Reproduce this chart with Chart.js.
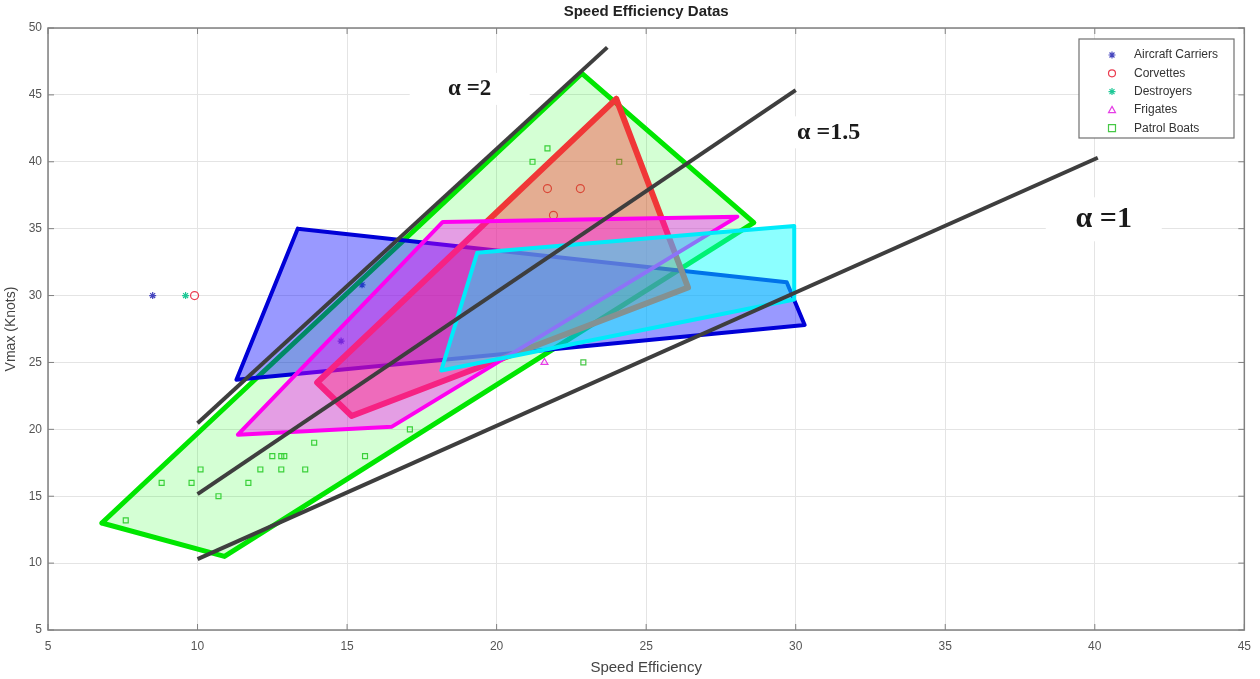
<!DOCTYPE html>
<html><head><meta charset="utf-8">
<script src="https://cdn.jsdelivr.net/npm/chart.js@4.4.0/dist/chart.umd.min.js"></script>
<style>html,body{margin:0;padding:0;background:#fff;}#wrap{width:1260px;height:679px;}</style>
</head><body><div id="wrap"><canvas id="c" width="1260" height="679"></canvas></div>
<script>
const chartTitle = 'Speed Efficiency Datas';
const xTitle = 'Speed Efficiency';
const yTitle = 'Vmax (Knots)';
const seriesNames = ['Aircraft Carriers', 'Corvettes', 'Destroyers', 'Frigates', 'Patrol Boats'];

// measured ships
const carrierX = [8.5, 15.5, 14.8];
const carrierY = [30, 30.8, 26.6];
const corvetteX = [9.9, 21.7, 22.8, 21.9];
const corvetteY = [30, 38, 38, 36];
const destroyerX = [9.6];
const destroyerY = [30];
const frigateX = [21.6];
const frigateY = [25];
const patrolX = [7.6, 8.8, 9.8, 10.1, 10.7, 11.7, 12.1, 12.5, 12.8, 12.9, 12.8, 13.6, 13.9, 15.6, 17.1, 21.2, 21.7, 24.1, 22.9];
const patrolY = [13.2, 16, 16, 17, 15, 16, 17, 18, 18, 18, 17, 17, 19, 18, 20, 40, 41, 40, 25];

// envelopes
const carrierHullX = [13.35, 29.7, 30.3, 11.3, 13.35];
const carrierHullY = [35, 31, 27.8, 23.7, 35];
const corvetteHullX = [24.0, 26.4, 15.15, 14.0, 24.0];
const corvetteHullY = [44.7, 30.6, 21.0, 23.5, 44.7];
const destroyerHullX = [19.35, 29.95, 29.95, 18.15, 19.35];
const destroyerHullY = [33.2, 35.2, 29.7, 24.4, 33.2];
const frigateHullX = [11.35, 18.2, 28.05, 16.5, 11.35];
const frigateHullY = [19.6, 35.5, 35.9, 20.2, 19.6];
const patrolHullX = [6.8, 22.85, 28.6, 10.9, 6.8];
const patrolHullY = [13.0, 46.6, 35.45, 10.5, 13.0];

// alpha reference lines
const alphaNames = ['\u03b1 =2', '\u03b1 =1.5', '\u03b1 =1'];
const alpha2X = [10, 23.7];
const alpha2Y = [20.45, 48.55];
const alpha15X = [10, 30.0];
const alpha15Y = [15.15, 45.35];
const alpha1X = [10, 40.1];
const alpha1Y = [10.3, 40.3];
const alphaLabelX = [19.1, 31.1, 40.3];
const alphaLabelY = [45.45, 42.2, 35.7];

const xTicksMin = 5, xTicksMax = 45, yTicksMin = 5, yTicksMax = 50, tickStep = 5;

const pts = (xs, ys) => xs.map((x, i) => ({x: x, y: ys[i]}));

const markerStyles = [
  {style: 'star', color: 'rgb(70,70,190)', r: 3.5},
  {style: 'circle', color: 'rgb(235,60,80)', r: 4},
  {style: 'star', color: 'rgb(30,200,150)', r: 3.5},
  {style: 'triangle', color: 'rgb(230,60,230)', r: 4},
  {style: 'rect', color: 'rgb(70,200,70)', r: 3.5}
];
const markerX = [carrierX, corvetteX, destroyerX, frigateX, patrolX];
const markerY = [carrierY, corvetteY, destroyerY, frigateY, patrolY];

function scatterSet(i) {
  const m = markerStyles[i];
  return {
    type: 'scatter', label: seriesNames[i], data: pts(markerX[i], markerY[i]),
    pointStyle: m.style, pointRadius: m.r, pointBorderColor: m.color, pointBackgroundColor: 'rgba(0,0,0,0)',
    pointBorderWidth: 1.2, borderColor: m.color, backgroundColor: 'rgba(0,0,0,0)', showLine: false, order: 20
  };
}
function hullSet(label, xs, ys, edge, fillC, w, order) {
  return {
    type: 'line', label: label, data: pts(xs, ys), borderColor: edge, backgroundColor: fillC,
    borderWidth: w, fill: 'shape', pointRadius: 0, tension: 0, borderJoinStyle: 'round', borderCapStyle: 'round', order: order
  };
}
function refLine(label, xs, ys) {
  return {
    type: 'line', label: label, data: pts(xs, ys), borderColor: 'rgb(62,62,62)', borderWidth: 4,
    fill: false, pointRadius: 0, tension: 0, borderCapStyle: 'butt', order: 0
  };
}

const datasets = [
  refLine(alphaNames[0], alpha2X, alpha2Y),
  refLine(alphaNames[1], alpha15X, alpha15Y),
  refLine(alphaNames[2], alpha1X, alpha1Y),
  hullSet('Destroyers envelope', destroyerHullX, destroyerHullY, 'rgb(0,235,250)', 'rgba(0,255,255,0.45)', 4, 2),
  hullSet('Frigates envelope', frigateHullX, frigateHullY, 'rgb(255,0,240)', 'rgba(255,0,255,0.38)', 4, 3),
  hullSet('Corvettes envelope', corvetteHullX, corvetteHullY, 'rgb(240,55,55)', 'rgba(255,40,40,0.38)', 6, 4),
  hullSet('Aircraft Carriers envelope', carrierHullX, carrierHullY, 'rgb(0,0,215)', 'rgba(0,0,255,0.40)', 4, 5),
  hullSet('Patrol Boats envelope', patrolHullX, patrolHullY, 'rgb(0,230,0)', 'rgba(0,255,0,0.17)', 5, 6),
  scatterSet(0), scatterSet(1), scatterSet(2), scatterSet(3), scatterSet(4)
];

function drawMarker(ctx, style, color, x, y, r) {
  ctx.save();
  ctx.strokeStyle = color; ctx.fillStyle = color; ctx.lineWidth = 1.2;
  ctx.beginPath();
  if (style === 'star') {
    for (let k = 0; k < 4; k++) {
      const a = k * Math.PI / 4;
      ctx.moveTo(x - r * Math.cos(a), y - r * Math.sin(a));
      ctx.lineTo(x + r * Math.cos(a), y + r * Math.sin(a));
    }
    ctx.stroke();
  } else if (style === 'circle') {
    ctx.arc(x, y, r, 0, Math.PI * 2); ctx.stroke();
  } else if (style === 'triangle') {
    ctx.moveTo(x, y - r); ctx.lineTo(x + r, y + r * 0.8); ctx.lineTo(x - r, y + r * 0.8); ctx.closePath(); ctx.stroke();
  } else {
    ctx.rect(x - r, y - r, 2 * r, 2 * r); ctx.stroke();
  }
  ctx.restore();
}

const sansFont = '"Liberation Sans", Arial, sans-serif';

const decor = {
  id: 'decor',
  beforeDraw(chart) {
    const ctx = chart.ctx;
    ctx.save(); ctx.fillStyle = '#fff'; ctx.fillRect(0, 0, chart.width, chart.height); ctx.restore();
  },
  beforeDatasetsDraw(chart) {
    const ctx = chart.ctx, xs = chart.scales.x, ys = chart.scales.y;
    // white text boxes behind alpha labels
    const boxW = [120, 84, 116], boxH = [32, 32, 44];
    ctx.save(); ctx.fillStyle = '#fff';
    for (let i = 0; i < 3; i++) {
      const px = xs.getPixelForValue(alphaLabelX[i]), py = ys.getPixelForValue(alphaLabelY[i]);
      ctx.fillRect(px - boxW[i] / 2, py - boxH[i] / 2, boxW[i], boxH[i]);
    }
    ctx.restore();
  },
  afterDraw(chart) {
    const ctx = chart.ctx, a = chart.chartArea, xs = chart.scales.x, ys = chart.scales.y;
    ctx.save();
    // axes box
    ctx.strokeStyle = '#808080'; ctx.lineWidth = 1.5;
    ctx.strokeRect(a.left, a.top, a.right - a.left, a.bottom - a.top);
    ctx.lineWidth = 1;
    ctx.beginPath();
    xs.ticks.forEach(t => {
      const px = xs.getPixelForValue(t.value);
      ctx.moveTo(px, a.bottom); ctx.lineTo(px, a.bottom - 6);
      ctx.moveTo(px, a.top); ctx.lineTo(px, a.top + 6);
    });
    ys.ticks.forEach(t => {
      const py = ys.getPixelForValue(t.value);
      ctx.moveTo(a.left, py); ctx.lineTo(a.left + 6, py);
      ctx.moveTo(a.right, py); ctx.lineTo(a.right - 6, py);
    });
    ctx.stroke();
    // title
    ctx.fillStyle = '#222'; ctx.font = 'bold 15px ' + sansFont;
    ctx.textAlign = 'center'; ctx.textBaseline = 'middle';
    ctx.fillText(chartTitle, (a.left + a.right) / 2, 12);
    // alpha labels
    const sizes = [23, 24, 30];
    ctx.fillStyle = '#1a1a1a';
    for (let i = 0; i < 3; i++) {
      ctx.font = 'bold ' + sizes[i] + 'px "Liberation Serif", "DejaVu Serif", serif';
      ctx.fillText(alphaNames[i], xs.getPixelForValue(alphaLabelX[i]), ys.getPixelForValue(alphaLabelY[i]));
    }
    // legend
    const lx = 1079, ly = 39, lw = 155, lh = 99;
    ctx.fillStyle = '#fff'; ctx.fillRect(lx, ly, lw, lh);
    ctx.strokeStyle = '#707070'; ctx.lineWidth = 1.2; ctx.strokeRect(lx, ly, lw, lh);
    ctx.font = '12px ' + sansFont; ctx.textAlign = 'left';
    for (let i = 0; i < seriesNames.length; i++) {
      const yy = ly + 16 + i * 18.3;
      drawMarker(ctx, markerStyles[i].style, markerStyles[i].color, lx + 33, yy, 3.5);
      ctx.fillStyle = '#333';
      ctx.fillText(seriesNames[i], lx + 55, yy);
    }
    ctx.restore();
  }
};

new Chart(document.getElementById('c'), {
  type: 'scatter',
  data: {datasets: datasets},
  options: {
    responsive: false, animation: false, devicePixelRatio: 1,
    layout: {padding: {top: 28, right: 12, left: 0, bottom: 0}},
    plugins: {legend: {display: false}, tooltip: {enabled: false}, title: {display: false}},
    scales: {
      x: {
        type: 'linear', min: xTicksMin, max: xTicksMax,
        ticks: {stepSize: tickStep, color: '#555', font: {size: 12, family: sansFont}, padding: 9, maxRotation: 0},
        grid: {color: '#e4e4e4', drawTicks: false},
        border: {display: false},
        title: {display: true, text: xTitle, color: '#444', font: {size: 15, family: sansFont}, padding: {top: 0, bottom: 2}},
        afterFit(s) { s.height = 49; }
      },
      y: {
        type: 'linear', min: yTicksMin, max: yTicksMax,
        ticks: {stepSize: tickStep, color: '#555', font: {size: 12, family: sansFont}, padding: 6},
        grid: {color: '#e4e4e4', drawTicks: false},
        border: {display: false},
        title: {display: true, text: yTitle, color: '#444', font: {size: 14, family: sansFont}, padding: {top: 3, bottom: 0}},
        afterFit(s) { s.width = 48; }
      }
    }
  },
  plugins: [decor]
});
</script></body></html>
